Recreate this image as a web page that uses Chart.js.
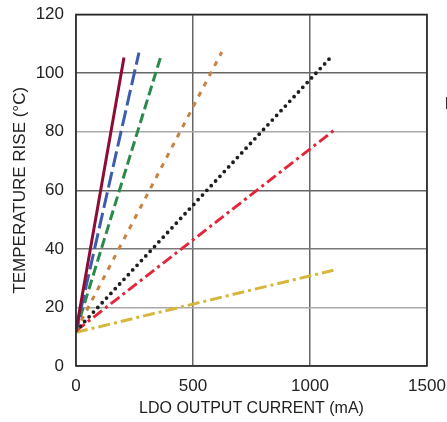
<!DOCTYPE html>
<html>
<head>
<meta charset="utf-8">
<script src="https://cdn.jsdelivr.net/npm/chart.js@4"></script>
<style>
  html, body { margin: 0; padding: 0; background: #fff; }
  #wrap { width: 447px; height: 422px; position: relative; }
</style>
</head>
<body>
<div id="wrap"><canvas id="tempChart"></canvas></div>
<script>
// load current (mA) and temperature rise (°C), two points per straight line
const current1 = [0, 205];
const current2 = [0, 269];
const current3 = [0, 366];
const current4 = [0, 623];
const current5 = [0, 1090];
const current6 = [0, 1100];
const current7 = [0, 1100];
const rise1 = [12, 105.3];
const rise2 = [12, 107];
const rise3 = [12, 106.6];
const rise4 = [12, 107.2];
const rise5 = [12, 105.5];
const rise6 = [12, 80.3];
const rise7 = [11.5, 32.7];
const xTicks = [0, 500, 1000, 1500];
const yTicks = [0, 20, 40, 60, 80, 100, 120];

const font = "'Liberation Sans', Arial, sans-serif";

function pts(xs, ys) {
  return xs.map((x, i) => ({ x: x, y: ys[i] }));
}

const styles = [
  { c: '#8c0c34', dash: [] },
  { c: '#3d5cb0', dash: [16, 5] },
  { c: '#2a8a4c', dash: [10, 4.5] },
  { c: '#c98240', dash: [5, 6.5] },
  { c: '#1e1e1e', dash: [0, 6.4], cap: 'round', w: 3.8 },
  { c: '#e32639', dash: [11, 4, 3, 4] },
  { c: '#d6b73c', dash: [12, 4, 3, 4] }
];
const seriesY = [rise1, rise2, rise3, rise4, rise5, rise6, rise7];
const seriesX = [current1, current2, current3, current4, current5, current6, current7];

const hGridColor = { 20: '#aaaaaa', 40: '#7a7a7a', 60: '#666666', 80: '#aaaaaa', 100: '#666666' };

const frame = {
  id: 'frame',
  afterDraw(chart) {
    const a = chart.chartArea, ctx = chart.ctx;
    ctx.save();
    ctx.strokeStyle = '#2a2a2a';
    ctx.lineWidth = 1.6;
    ctx.strokeRect(a.left, a.top, a.right - a.left, a.bottom - a.top);
    // clipped legend text at the right edge of the original figure
    ctx.fillStyle = '#222';
    ctx.font = '17px ' + font;
    ctx.textBaseline = 'middle';
    ctx.fillText('I', 444.5, 104);
    ctx.restore();
  }
};

const noPad = s => { s.paddingTop = 0; s.paddingBottom = 0; s.paddingLeft = 0; s.paddingRight = 0; };

new Chart(document.getElementById('tempChart'), {
  type: 'scatter',
  data: {
    datasets: seriesY.map((ys, i) => ({
      data: pts(seriesX[i], ys),
      showLine: true,
      borderColor: styles[i].c,
      borderWidth: styles[i].w || 3,
      borderDash: styles[i].dash,
      borderCapStyle: styles[i].cap || 'butt',
      pointRadius: 0,
      fill: false
    }))
  },
  options: {
    responsive: true,
    maintainAspectRatio: false,
    animation: false,
    layout: { padding: { top: 14.5, right: 20, left: 0, bottom: 0 } },
    plugins: { legend: { display: false }, tooltip: { enabled: false } },
    scales: {
      x: {
        type: 'linear', min: 0, max: 1500,
        afterBuildTicks: s => { s.ticks = xTicks.map(v => ({ value: v })); },
        afterFit: s => { s.height = 56; noPad(s); },
        grid: { color: '#666666', lineWidth: 1.5, drawTicks: false },
        border: { display: false },
        ticks: { color: '#222', padding: 10, font: { family: font, size: 17 }, callback: v => String(v) },
        title: { display: true, text: 'LDO OUTPUT CURRENT (mA)', color: '#222', padding: { bottom: 4 },
                 font: { family: font, size: 16 } }
      },
      y: {
        type: 'linear', min: 0, max: 120,
        afterBuildTicks: s => { s.ticks = yTicks.map(v => ({ value: v })); },
        afterFit: s => { s.width = 76; noPad(s); },
        grid: { color: c => hGridColor[c.tick.value] || '#666666', lineWidth: 1.5, drawTicks: false },
        border: { display: false },
        ticks: { color: '#222', padding: 12, font: { family: font, size: 17 }, callback: v => String(v) },
        title: { display: true, text: 'TEMPERATURE RISE (°C)', color: '#222', padding: { top: 10 },
                 font: { family: font, size: 17 } }
      }
    }
  },
  plugins: [frame]
});
</script>
</body>
</html>
